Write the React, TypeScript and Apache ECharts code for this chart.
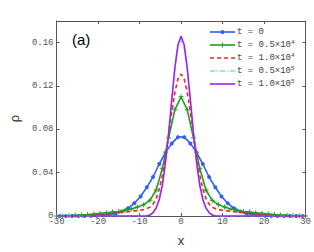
import React, { useEffect, useRef } from "react";
import * as echarts from "echarts";

// Blue (t = 0): markers every 1.5 at odd multiples of 0.75
const xBlue = [-29.25, -27.75, -26.25, -24.75, -23.25, -21.75, -20.25, -18.75, -17.25, -15.75, -14.25, -12.75, -11.25, -9.75, -8.25, -6.75, -5.25, -3.75, -2.25, -0.75, 0.75, 2.25, 3.75, 5.25, 6.75, 8.25, 9.75, 11.25, 12.75, 14.25, 15.75, 17.25, 18.75, 20.25, 21.75, 23.25, 24.75, 26.25, 27.75, 29.25];
const yBlue = [0, 0, 0, 0, 0, 0.0001, 0.0003, 0.0007, 0.0013, 0.0024, 0.0042, 0.0072, 0.0117, 0.018, 0.0265, 0.036, 0.048, 0.0585, 0.067, 0.0728, 0.0728, 0.067, 0.0585, 0.048, 0.036, 0.0265, 0.018, 0.0117, 0.0072, 0.0042, 0.0024, 0.0013, 0.0007, 0.0003, 0.0001, 0, 0, 0, 0, 0];

// Green (t = 0.5x10^4): markers every 1.5
const xGreen = [-30, -28.5, -27, -25.5, -24, -22.5, -21, -19.5, -18, -16.5, -15, -13.5, -12, -10.5, -9, -7.5, -6, -4.5, -3, -1.5, 0, 1.5, 3, 4.5, 6, 7.5, 9, 10.5, 12, 13.5, 15, 16.5, 18, 19.5, 21, 22.5, 24, 25.5, 27, 28.5, 30];
const yGreen = [0, 0.0001, 0.0003, 0.0006, 0.0009, 0.0013, 0.0018, 0.0024, 0.003, 0.0036, 0.0042, 0.0052, 0.0065, 0.0082, 0.0105, 0.0145, 0.024, 0.044, 0.072, 0.098, 0.11, 0.098, 0.072, 0.044, 0.024, 0.0145, 0.0105, 0.0082, 0.0065, 0.0052, 0.0042, 0.0036, 0.003, 0.0024, 0.0018, 0.0013, 0.0009, 0.0006, 0.0003, 0.0001, 0];

// Fine grid for the smooth curves
const xFine = [-30, -29.25, -28.5, -27.75, -27, -26.25, -25.5, -24.75, -24, -23.25, -22.5, -21.75, -21, -20.25, -19.5, -18.75, -18, -17.25, -16.5, -15.75, -15, -14.25, -13.5, -12.75, -12, -11.25, -10.5, -9.75, -9, -8.25, -7.5, -6.75, -6, -5.25, -4.5, -3.75, -3, -2.25, -1.5, -0.75, 0, 0.75, 1.5, 2.25, 3, 3.75, 4.5, 5.25, 6, 6.75, 7.5, 8.25, 9, 9.75, 10.5, 11.25, 12, 12.75, 13.5, 14.25, 15, 15.75, 16.5, 17.25, 18, 18.75, 19.5, 20.25, 21, 21.75, 22.5, 23.25, 24, 24.75, 25.5, 26.25, 27, 27.75, 28.5, 29.25, 30];
// Red dashed (t = 1.0x10^4)
const yRed = [0, 0, 0, 0, 0, 0, 0, 0.0001, 0.0002, 0.0003, 0.0004, 0.0005, 0.0007, 0.0009, 0.0011, 0.0014, 0.0017, 0.002, 0.0023, 0.0027, 0.003, 0.0034, 0.0037, 0.004, 0.0044, 0.0047, 0.005, 0.0054, 0.006, 0.0068, 0.0082, 0.011, 0.016, 0.025, 0.0375, 0.055, 0.0751, 0.0958, 0.114, 0.1265, 0.131, 0.1265, 0.114, 0.0958, 0.0751, 0.055, 0.0375, 0.025, 0.016, 0.011, 0.0082, 0.0068, 0.006, 0.0054, 0.005, 0.0047, 0.0044, 0.004, 0.0037, 0.0034, 0.003, 0.0027, 0.0023, 0.002, 0.0017, 0.0014, 0.0011, 0.0009, 0.0007, 0.0005, 0.0004, 0.0003, 0.0002, 0.0001, 0, 0, 0, 0, 0, 0, 0];
// Cyan dash-dot (t = 0.5x10^5)
const yCyan = [0, 0, 0, 0, 0, 0, 0, 0, 0, 0, 0, 0, 0, 0, 0, 0, 0, 0, 0, 0, 0, 0, 0, 0, 0, 0, 0, 0, 0, 0, 0.0012, 0.0034, 0.0076, 0.0156, 0.029, 0.0493, 0.0757, 0.106, 0.1345, 0.155, 0.162, 0.155, 0.1345, 0.106, 0.0757, 0.0493, 0.029, 0.0156, 0.0076, 0.0034, 0.0012, 0, 0, 0, 0, 0, 0, 0, 0, 0, 0, 0, 0, 0, 0, 0, 0, 0, 0, 0, 0, 0, 0, 0, 0, 0, 0, 0, 0, 0, 0, 0];
// Purple (t = 1.0x10^5)
const yPurple = [0, 0, 0, 0, 0, 0, 0, 0, 0, 0, 0, 0, 0, 0, 0, 0, 0, 0, 0, 0, 0, 0, 0, 0, 0, 0, 0, 0, 0, 0, 0.0009, 0.0032, 0.0073, 0.0152, 0.0286, 0.049, 0.076, 0.107, 0.1366, 0.158, 0.166, 0.158, 0.1366, 0.107, 0.076, 0.049, 0.0286, 0.0152, 0.0073, 0.0032, 0.0009, 0, 0, 0, 0, 0, 0, 0, 0, 0, 0, 0, 0, 0, 0, 0, 0, 0, 0, 0, 0, 0, 0, 0, 0, 0, 0, 0, 0, 0, 0, 0];

const legendLabels = [
  "t = 0",
  "t = 0.5×10{sup|4}",
  "t = 1.0×10{sup|4}",
  "t = 0.5×10{sup|5}",
  "t = 1.0×10{sup|5}",
];

const xTicks = [-30, -20, -10, 0, 10, 20, 30];
const yTicks = [0, 0.04, 0.08, 0.12, 0.16];

const pairs = (xs: number[], ys: number[]) => xs.map((x, i) => [x, ys[i]]);

const mono = "Liberation Mono";
const axisCol = "#555";

const BLUE = "#2f5ff5";
const GREEN = "#1fa01f";
const RED = "#ff2020";
const CYAN = "#5cf5c8";
const PURPLE = "#a020f0";

const plusPath = "path://M4,0H6V4H10V6H6V10H4V6H0V4H4Z";

export default function App() {
  const ref = useRef<HTMLDivElement>(null);
  useEffect(() => {
    if (!ref.current) return;
    document.body.style.margin = "0";
    document.body.style.overflow = "hidden";
    const chart = echarts.init(ref.current, null, { renderer: "svg" });
    const axisCommon = {
      axisLine: { onZero: false, lineStyle: { color: axisCol, width: 1 } },
      axisTick: { inside: true, length: 3, lineStyle: { color: axisCol } },
      splitLine: { show: false },
    };

    // custom legend
    const lx0 = 210;
    const lx1 = 235;
    const rowY = [32, 45, 58, 71, 84];
    const lineStyles: any[] = [
      { stroke: BLUE, lineWidth: 1.6 },
      { stroke: GREEN, lineWidth: 1.6 },
      { stroke: RED, lineWidth: 1.6, lineDash: [4, 3] },
      { stroke: CYAN, lineWidth: 1.3, lineDash: [5, 2, 1, 2] },
      { stroke: PURPLE, lineWidth: 1.6 },
    ];
    const legendGraphics: any[] = [];
    rowY.forEach((y, i) => {
      legendGraphics.push({
        type: "line",
        shape: { x1: lx0, y1: y, x2: lx1, y2: y },
        style: lineStyles[i],
        silent: true,
      });
      legendGraphics.push({
        type: "text",
        x: 237,
        y: y,
        style: {
          text: legendLabels[i],
          font: `9px '${mono}'`,
          fill: "#444",
          verticalAlign: "middle",
          rich: {
            sup: { font: `6px '${mono}'`, fill: "#444", verticalAlign: "top", padding: [0, 0, 5, 0] },
          },
        },
        silent: true,
      });
    });
    const mid = (lx0 + lx1) / 2;
    legendGraphics.push({
      type: "circle",
      shape: { cx: mid, cy: rowY[0], r: 2 },
      style: { fill: BLUE },
      silent: true,
    });
    legendGraphics.push({
      type: "line",
      shape: { x1: mid, y1: rowY[1] - 2.5, x2: mid, y2: rowY[1] + 2.5 },
      style: { stroke: GREEN, lineWidth: 1 },
      silent: true,
    });

    chart.setOption({
      animation: false,
      backgroundColor: "#fff",
      grid: { left: 45, top: 21, right: 8, bottom: 24 },
      graphic: [
        {
          type: "text",
          left: 72,
          top: 32,
          style: { text: "(a)", font: "15px 'Liberation Sans'", fill: "#000" },
        },
        ...legendGraphics,
      ],
      xAxis: [
        {
          type: "value",
          min: -30,
          max: 30,
          interval: 10,
          name: "x",
          nameLocation: "middle",
          nameGap: 18,
          nameTextStyle: { fontFamily: "Liberation Sans", fontSize: 13, color: "#333" },
          axisLabel: {
            fontFamily: mono,
            fontSize: 9,
            color: axisCol,
            margin: 1,
            formatter: (v: number) => (xTicks.includes(v) ? String(v) : ""),
          },
          ...axisCommon,
        },
        {
          type: "value",
          position: "top",
          min: -30,
          max: 30,
          interval: 10,
          axisLabel: { show: false },
          ...axisCommon,
        },
      ],
      yAxis: [
        {
          type: "value",
          min: 0,
          max: 0.18,
          interval: 0.04,
          name: "ρ",
          nameLocation: "middle",
          nameRotate: 90,
          nameGap: 30,
          nameTextStyle: { fontFamily: "Liberation Sans", fontSize: 13, color: "#333" },
          axisLabel: {
            fontFamily: mono,
            fontSize: 9,
            color: axisCol,
            margin: 3,
            showMaxLabel: false,
            formatter: (v: number) => {
              const t = yTicks.find((k) => Math.abs(k - v) < 1e-9);
              if (t === undefined) return "";
              return t === 0 ? "0" : t.toFixed(2);
            },
          },
          ...axisCommon,
        },
        {
          type: "value",
          position: "right",
          min: 0,
          max: 0.18,
          interval: 0.04,
          axisLabel: { show: false },
          ...axisCommon,
        },
      ],
      series: [
        {
          name: "t = 0",
          type: "line",
          data: pairs(xBlue, yBlue),
          color: BLUE,
          symbol: "circle",
          symbolSize: 4,
          showSymbol: true,
          lineStyle: { width: 1.6, color: BLUE },
          itemStyle: { color: BLUE },
          z: 2,
        },
        {
          name: "t = 0.5×10^4",
          type: "line",
          data: pairs(xGreen, yGreen),
          color: GREEN,
          symbol: plusPath,
          symbolSize: 5,
          lineStyle: { width: 1.6, color: GREEN },
          itemStyle: { color: GREEN },
          z: 3,
        },
        {
          name: "t = 1.0×10^4",
          type: "line",
          data: pairs(xFine, yRed),
          color: RED,
          symbol: "none",
          lineStyle: { width: 1.6, color: RED, type: [4, 3] },
          z: 4,
        },
        {
          name: "t = 0.5×10^5",
          type: "line",
          data: pairs(xFine, yCyan),
          color: CYAN,
          symbol: "none",
          lineStyle: { width: 1.3, color: CYAN, type: [5, 2, 1, 2] },
          z: 5,
        },
        {
          name: "t = 1.0×10^5",
          type: "line",
          data: pairs(xFine, yPurple),
          color: PURPLE,
          symbol: "none",
          lineStyle: { width: 1.6, color: PURPLE },
          z: 6,
        },
      ],
    });
    return () => chart.dispose();
  }, []);
  return <div ref={ref} style={{ width: 314, height: 252, overflow: "hidden" }} />;
}
